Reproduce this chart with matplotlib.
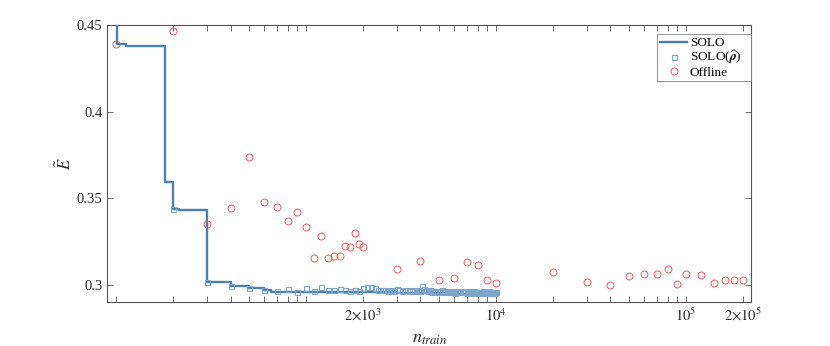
import numpy as np
import matplotlib
matplotlib.use("Agg")
import matplotlib.pyplot as plt

plt.rcParams['font.family'] = ['Liberation Serif', 'DejaVu Serif']
plt.rcParams['mathtext.fontset'] = 'stix'

# SOLO step curve (breakpoints, step "post")
solo_n = [100, 101, 112, 180, 200, 214, 300, 400, 500, 600, 652,
          3000, 4000, 5000, 6000, 7000, 8000, 9000, 10000]
solo_E = [0.470, 0.4394, 0.4380, 0.3596, 0.3437, 0.3431, 0.3017, 0.2992,
          0.2983, 0.2967, 0.2958, 0.2955, 0.2952, 0.2950, 0.2948,
          0.2947, 0.2945, 0.2944, 0.2944]

# SOLO(rho-hat) squares at n = 200, 300, ..., 10000
solo_rho_n = list(range(200, 10001, 100))
solo_rho_E = [
    0.3437, 0.3017, 0.2992, 0.2982, 0.2967, 0.2962, 0.2975, 0.2958, 0.2981,  # 200-1000
    0.2962, 0.2985, 0.2970, 0.2970, 0.2976, 0.2970, 0.2962, 0.2970, 0.2966, 0.2981,  # 1100-2000
    0.2985, 0.2987, 0.2984, 0.2972, 0.2968, 0.2970, 0.2966, 0.2968, 0.2964, 0.2975,  # 2100-3000
    0.2970, 0.2966, 0.2972, 0.2968, 0.2964, 0.2969, 0.2962, 0.2966, 0.2972, 0.2965,  # 3100-4000
    0.2991, 0.2978, 0.2972, 0.2962, 0.2968, 0.2958, 0.2964, 0.2960, 0.2966, 0.2957,  # 4100-5000
    0.2963, 0.2970, 0.2959, 0.2962, 0.2966, 0.2956, 0.2961, 0.2964, 0.2958, 0.2962,  # 5100-6000
    0.2955, 0.2962, 0.2966, 0.2958, 0.2960, 0.2956, 0.2963, 0.2958, 0.2961, 0.2955,  # 6100-7000
    0.2959, 0.2964, 0.2956, 0.2960, 0.2954, 0.2958, 0.2962, 0.2955, 0.2957, 0.2953,  # 7100-8000
    0.2958, 0.2961, 0.2954, 0.2957, 0.2963, 0.2955, 0.2952, 0.2958, 0.2956, 0.2953,  # 8100-9000
    0.2957, 0.2962, 0.2954, 0.2956, 0.2951, 0.2958, 0.2955, 0.2952, 0.2960, 0.2956,  # 9100-10000
]

# Offline circles
off_n = [100, 200, 300, 400, 500, 600, 700, 800, 900, 1000,
         1100, 1200, 1300, 1400, 1500, 1600, 1700, 1800, 1900, 2000,
         3000, 4000, 5000, 6000, 7000, 8000, 9000, 10000,
         20000, 30000, 40000, 50000, 60000, 70000, 80000, 90000, 100000,
         120000, 140000, 160000, 180000, 200000]
off_E = [0.4394, 0.4467, 0.3353, 0.3442, 0.3740, 0.3477, 0.3452, 0.3371, 0.3419, 0.3334,
         0.3156, 0.3283, 0.3157, 0.3168, 0.3168, 0.3226, 0.3221, 0.3300, 0.3236, 0.3221,
         0.3092, 0.3136, 0.3030, 0.3038, 0.3132, 0.3115, 0.3025, 0.3009,
         0.3071, 0.3015, 0.3000, 0.3050, 0.3061, 0.3061, 0.3092, 0.3002, 0.3063,
         0.3057, 0.3012, 0.3027, 0.3025, 0.3025]

xticks = list(range(100, 1001, 100)) + list(range(2000, 10001, 1000)) + \
    list(range(20000, 100001, 10000)) + [200000]
xtick_labels = {2000: r'$2{\times}10^3$', 10000: r'$10^4$',
                100000: r'$10^5$', 200000: r'$2{\times}10^5$'}
yticks = [0.3, 0.35, 0.4, 0.45]
ytick_labels = ['0.3', '0.35', '0.4', '0.45']

line_col = '#4a7fb0'
sq_col = '#7ea6cc'
circ_col = '#ee5a5a'

fig = plt.figure(figsize=(8.3, 3.46), dpi=100)
ax = fig.add_axes([0.1295, 0.127, 0.7753, 0.800])

ax.step(solo_n, solo_E, where='post', color=line_col, lw=1.7, label='SOLO', zorder=3)
ax.plot(solo_rho_n, solo_rho_E, ls='none', marker='s', ms=3.6, mfc='none',
        mec=sq_col, mew=0.8, label=r'SOLO($\widehat{\boldsymbol{\rho}}$)   ', zorder=4)
ax.plot(off_n, off_E, ls='none', marker='o', ms=5, mfc='none',
        mec=circ_col, mew=0.7, label='Offline', zorder=5)

ax.set_xscale('log')
ax.set_xlim(90, 2.2e5)
ax.set_ylim(0.29, 0.45)
ax.set_xticks(xticks)
ax.set_xticklabels([xtick_labels.get(t, '') for t in xticks])
ax.xaxis.set_minor_locator(matplotlib.ticker.NullLocator())
ax.set_yticks(yticks)
ax.set_yticklabels(ytick_labels)

spine_col = '#555555'
for s in ax.spines.values():
    s.set_color(spine_col)
    s.set_linewidth(0.8)
ax.tick_params(direction='in', top=True, right=True, length=4, width=0.6,
               colors=spine_col, labelcolor='#262626', labelsize=10.5)

ax.set_xlabel(r'$n_{train}$', fontsize=13, color='#262626', labelpad=4)
ax.set_ylabel(r'$\tilde{E}$', fontsize=12, color='#262626', labelpad=1)

leg = ax.legend(loc='upper right', bbox_to_anchor=(1.0, 0.967), fontsize=9.5,
                frameon=True, fancybox=False, edgecolor='#777777',
                handlelength=2.05, handletextpad=0.2, borderpad=0.2,
                labelspacing=0.0, borderaxespad=0.0)
leg.get_frame().set_linewidth(0.7)

fig.savefig('out.png', dpi=100)
